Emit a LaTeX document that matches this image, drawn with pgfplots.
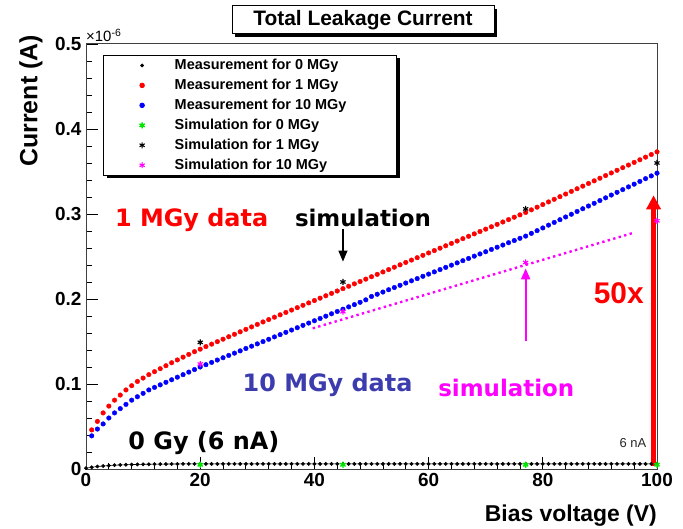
\documentclass[border=0pt]{standalone}
\usepackage{fontspec}
\setmainfont{Liberation Sans}
\newfontfamily\comic{DejaVu Sans}
\usepackage{pgfplots}
\usepackage{pgfplotstable}
\pgfplotsset{compat=1.18}
\usetikzlibrary{arrows.meta,shadows}
\definecolor{rred}{RGB}{255,0,0}
\definecolor{rblue}{RGB}{0,0,255}
\definecolor{rmag}{RGB}{255,0,255}
\definecolor{rgreen}{RGB}{0,230,0}
\definecolor{dblue}{RGB}{60,60,175}

\pgfplotstableread{
V I
1 0.0460
2 0.0560
3 0.0660
4 0.0740
5 0.0810
6 0.0870
7 0.0930
8 0.0980
9 0.1030
10 0.1070
11 0.1110
12 0.1145
13 0.1180
14 0.1215
15 0.1250
16 0.1283
17 0.1316
18 0.1348
19 0.1380
20 0.1410
21 0.1440
22 0.1469
23 0.1498
24 0.1527
25 0.1556
26 0.1585
27 0.1614
28 0.1643
29 0.1672
30 0.1701
31 0.1730
32 0.1758
33 0.1786
34 0.1814
35 0.1842
36 0.1870
37 0.1898
38 0.1926
39 0.1954
40 0.1982
41 0.2010
42 0.2038
43 0.2066
44 0.2094
45 0.2122
46 0.2150
47 0.2178
48 0.2206
49 0.2234
50 0.2262
51 0.2290
52 0.2318
53 0.2346
54 0.2374
55 0.2402
56 0.2430
57 0.2458
58 0.2486
59 0.2514
60 0.2542
61 0.2570
62 0.2598
63 0.2626
64 0.2654
65 0.2682
66 0.2710
67 0.2738
68 0.2766
69 0.2794
70 0.2822
71 0.2850
72 0.2878
73 0.2906
74 0.2934
75 0.2962
76 0.2990
77 0.3018
78 0.3049
79 0.3080
80 0.3111
81 0.3142
82 0.3173
83 0.3204
84 0.3235
85 0.3266
86 0.3297
87 0.3328
88 0.3359
89 0.3390
90 0.3421
91 0.3452
92 0.3483
93 0.3514
94 0.3545
95 0.3576
96 0.3607
97 0.3638
98 0.3669
99 0.3700
100 0.3731
}\redtab

\pgfplotstableread{
V I
1 0.0390
2 0.0470
3 0.0530
4 0.0600
5 0.0660
6 0.0710
7 0.0760
8 0.0810
9 0.0850
10 0.0890
11 0.0930
12 0.0960
13 0.0990
14 0.1020
15 0.1050
16 0.1080
17 0.1110
18 0.1140
19 0.1170
20 0.1200
21 0.1227
22 0.1254
23 0.1282
24 0.1309
25 0.1336
26 0.1363
27 0.1390
28 0.1418
29 0.1445
30 0.1472
31 0.1499
32 0.1526
33 0.1554
34 0.1581
35 0.1608
36 0.1635
37 0.1662
38 0.1690
39 0.1717
40 0.1744
41 0.1771
42 0.1798
43 0.1826
44 0.1853
45 0.1880
46 0.1907
47 0.1934
48 0.1961
49 0.1990
50 0.2030
51 0.2056
52 0.2082
53 0.2109
54 0.2135
55 0.2161
56 0.2188
57 0.2214
58 0.2240
59 0.2267
60 0.2293
61 0.2319
62 0.2346
63 0.2372
64 0.2398
65 0.2425
66 0.2451
67 0.2477
68 0.2504
69 0.2530
70 0.2556
71 0.2583
72 0.2609
73 0.2635
74 0.2662
75 0.2688
76 0.2714
77 0.2740
78 0.2772
79 0.2804
80 0.2836
81 0.2869
82 0.2901
83 0.2933
84 0.2965
85 0.2997
86 0.3030
87 0.3062
88 0.3094
89 0.3126
90 0.3158
91 0.3190
92 0.3223
93 0.3255
94 0.3287
95 0.3319
96 0.3351
97 0.3383
98 0.3416
99 0.3448
100 0.3480
}\bluetab

\pgfplotstableread{
V I
0 0.0010
1 0.0020
2 0.0030
3 0.0035
4 0.0040
5 0.0045
6 0.0048
7 0.0050
8 0.0052
9 0.0054
10 0.0055
11 0.0056
12 0.0057
13 0.0058
14 0.0058
15 0.0059
16 0.0059
17 0.0060
18 0.0060
19 0.0060
20 0.0060
21 0.0060
22 0.0060
23 0.0060
24 0.0060
25 0.0060
26 0.0060
27 0.0060
28 0.0060
29 0.0060
30 0.0060
31 0.0060
32 0.0060
33 0.0060
34 0.0060
35 0.0060
36 0.0060
37 0.0060
38 0.0060
39 0.0060
40 0.0060
41 0.0060
42 0.0060
43 0.0060
44 0.0060
45 0.0060
46 0.0060
47 0.0060
48 0.0060
49 0.0060
50 0.0060
51 0.0060
52 0.0060
53 0.0060
54 0.0060
55 0.0060
56 0.0060
57 0.0060
58 0.0060
59 0.0060
60 0.0060
61 0.0060
62 0.0060
63 0.0060
64 0.0060
65 0.0060
66 0.0060
67 0.0060
68 0.0060
69 0.0060
70 0.0060
71 0.0060
72 0.0060
73 0.0060
74 0.0060
75 0.0060
76 0.0060
77 0.0060
78 0.0060
79 0.0060
80 0.0060
81 0.0060
82 0.0060
83 0.0060
84 0.0060
85 0.0060
86 0.0060
87 0.0060
88 0.0060
89 0.0060
90 0.0060
91 0.0060
92 0.0060
93 0.0060
94 0.0060
95 0.0060
96 0.0060
97 0.0060
98 0.0060
99 0.0060
100 0.0060
}\zerotab

\begin{document}
\begin{tikzpicture}
\useasboundingbox (0bp,0bp) rectangle (683bp,529bp);
\begin{axis}[
  at={(86bp,60bp)}, anchor=south west, scale only axis,
  width=571bp, height=425bp,
  xmin=0, xmax=100, ymin=0, ymax=0.5,
  xtick={0,20,40,60,80,100}, xticklabels={0,20,40,60,80,100},
  ytick={0,0.1,0.2,0.3,0.4,0.5}, yticklabels={0,0.1,0.2,0.3,0.4,0.5},
  minor x tick num=4, minor y tick num=4,
  tick align=inside, xtick pos=left, ytick pos=left,
  major tick length=12bp, minor tick length=6bp,
  tick style={black, line width=0.8bp},
  axis line style={black!75, line width=1bp},
  ticklabel style={font=\fontsize{19}{19}\selectfont\bfseries},
  xticklabel style={yshift=-1bp},
  yticklabel style={xshift=-1bp},
  clip=false,
  legend cell align=left,
  legend style={at={(0.03,0.974)}, anchor=north west, draw=black, line width=0.8bp,
    fill=white, drop shadow={shadow xshift=3bp, shadow yshift=-3bp, opacity=1, fill=black},
    font=\fontsize{14.5}{16}\selectfont\bfseries, row sep=6bp, column sep=28bp,
    inner xsep=36bp, inner ysep=3bp, nodes={inner ysep=1bp}},
  legend image code/.code={\draw[#1, only marks] plot coordinates {(0bp,0bp)};},
]
\addplot[black, line width=0.6bp, mark=*, mark size=1.6bp, mark options={solid}] table[x=V,y=I] {\zerotab};
\addlegendentry{Measurement for 0 MGy}
\addplot[only marks, rred, mark=*, mark size=2.3bp] table[x=V,y=I] {\redtab};
\addlegendentry{Measurement for 1 MGy}
\addplot[only marks, rblue, mark=*, mark size=2.3bp] table[x=V,y=I] {\bluetab};
\addlegendentry{Measurement for 10 MGy\hspace*{12bp}}
\addplot[only marks, rgreen, mark=asterisk, mark size=3bp, line width=1.4bp] coordinates {(20,0.005) (45,0.005) (77,0.005) (100,0.005)};
\addlegendentry{Simulation for 0 MGy}
\addplot[only marks, black, mark=asterisk, mark size=3bp, line width=1.1bp] coordinates {(20,0.149) (45,0.220) (77,0.306) (100,0.360)};
\addlegendentry{Simulation for 1 MGy}
\addplot[only marks, rmag, mark=asterisk, mark size=3bp, line width=1.1bp] coordinates {(20,0.1235) (45,0.185) (77,0.243) (100,0.292)};
\addlegendentry{Simulation for 10 MGy}
\addplot[forget plot, rmag, line width=2.4bp, dash pattern=on 2.4bp off 3.3bp] coordinates {(39.7,0.1655) (95.6,0.2773)};

\draw[rred, line width=4.5bp, -{Triangle[width=14bp,length=14bp]}] (axis cs:99.4,0.004) -- (axis cs:99.4,0.322);
\draw[black, line width=1.2bp, -{Triangle[width=9bp,length=11bp]}] (axis cs:45,0.282) -- (axis cs:45,0.244);
\draw[draw=rmag, fill=rmag, line width=2bp, -{Triangle[width=9bp,length=11bp]}] (axis cs:77,0.150) -- (axis cs:77,0.236);

\node[rred, font=\comic\fontsize{24}{24}\selectfont\bfseries] at (axis cs:18.5,0.293) {1 MGy data};
\node[black, font=\comic\fontsize{23}{23}\selectfont\bfseries] at (axis cs:48.5,0.295) {simulation};
\node[dblue, font=\comic\fontsize{24}{24}\selectfont\bfseries] at (axis cs:42.3,0.099) {10 MGy data};
\node[rmag, font=\comic\fontsize{23}{23}\selectfont\bfseries] at (axis cs:73.6,0.095) {simulation};
\node[black, font=\comic\fontsize{24}{24}\selectfont\bfseries] at (axis cs:20.65,0.031) {0 Gy (6 nA)};
\node[rred, font=\fontsize{30}{30}\selectfont\bfseries] at (axis cs:93.3,0.207) {50x};
\node[black!85, font=\fontsize{13}{13}\selectfont] at (axis cs:95.8,0.030) {6 nA};
\end{axis}
\node[anchor=south west, font=\fontsize{15}{15}\selectfont, inner sep=0pt] at (86bp,487bp) {×10\textsuperscript{-6}};
\node[anchor=base east, font=\fontsize{23}{23}\selectfont\bfseries, inner sep=0pt] at (657bp,8bp) {Bias voltage (V)};
\node[rotate=90, anchor=east, font=\fontsize{25}{25}\selectfont\bfseries, inner sep=0pt] at (31bp,494bp) {Current (A)};
\node[draw=black, line width=1bp, fill=white, minimum width=262bp, minimum height=28bp, inner sep=0pt,
  drop shadow={shadow xshift=3bp, shadow yshift=-3bp, opacity=1, fill=black},
  font=\fontsize{21}{21}\selectfont\bfseries] at (363bp,509bp) {Total Leakage Current};
\end{tikzpicture}
\end{document}
